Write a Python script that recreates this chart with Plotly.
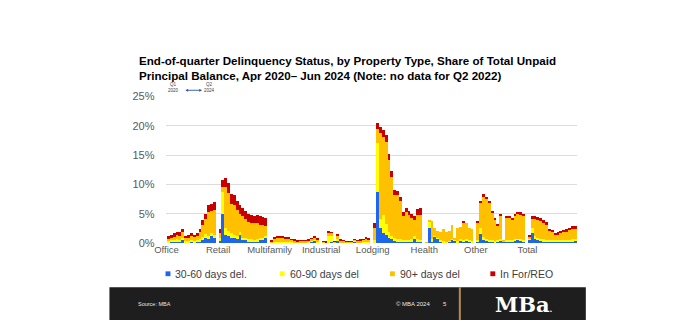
import plotly.graph_objects as go

# Property types, one group of quarterly bars each (Q1 2020 - Q2 2024, no Q2 2022)
property_types = ["Office", "Retail", "Multifamily", "Industrial",
                  "Lodging", "Health", "Other", "Total"]

# Y-axis ticks (% of total unpaid principal balance)
y_ticks = [0, 5, 10, 15, 20, 25]
y_tick_labels = ["0%", "5%", "10%", "15%", "20%", "25%"]

# Share of total unpaid principal balance (%), per delinquency status
office = dict(
    d30=[0.2, 0.3, 0.3, 0.4, 0.3, 0.6, 0.2, 0.2, 0.3, 0.2, 0.3, 0.4, 0.6, 1.0, 0.8, 1.2, 0.9],
    d60=[0.3, 0.3, 0.3, 0.3, 0.3, 0.4, 0.2, 0.2, 0.3, 0.2, 0.2, 0.3, 0.5, 0.6, 0.5, 0.6, 0.6],
    d90=[0.3, 0.4, 0.5, 0.7, 0.7, 0.9, 0.5, 0.6, 0.7, 0.7, 0.8, 1.2, 2.1, 2.5, 4.1, 3.8, 4.2],
    reo=[0.4, 0.5, 0.6, 0.6, 0.6, 0.6, 0.4, 0.4, 0.5, 0.4, 0.5, 0.6, 0.8, 0.9, 1.1, 1.2, 1.3],
)
retail = dict(
    d30=[0.4, 5.1, 1.5, 1.2, 1.0, 0.9, 0.8, 1.5, 0.6, 0.5, 0.4, 0.4, 0.3, 0.4, 0.5, 0.6, 0.9],
    d60=[0.5, 3.6, 1.2, 0.9, 0.7, 0.6, 0.5, 0.5, 0.4, 0.4, 0.3, 0.3, 0.3, 0.3, 0.4, 0.4, 0.4],
    d90=[0.9, 1.0, 6.9, 6.5, 5.1, 5.0, 4.4, 3.0, 3.6, 3.2, 3.0, 2.8, 2.8, 2.7, 2.3, 2.1, 1.7],
    reo=[0.6, 1.2, 1.6, 1.7, 1.7, 1.7, 1.6, 1.5, 1.5, 1.4, 1.4, 1.3, 1.3, 1.4, 1.5, 1.4, 1.3],
)
multifamily = dict(
    d30=[0.1, 0.2, 0.2, 0.2, 0.2, 0.1, 0.1, 0.1, 0.1, 0.1, 0.1, 0.1, 0.1, 0.2, 0.4, 0.5, 0.2],
    d60=[0.1, 0.1, 0.1, 0.1, 0.1, 0.1, 0.1, 0.1, 0.1, 0.1, 0.1, 0.1, 0.1, 0.1, 0.1, 0.1, 0.1],
    d90=[0.2, 0.6, 0.7, 0.7, 0.7, 0.7, 0.7, 0.4, 0.3, 0.2, 0.25, 0.25, 0.25, 0.25, 0.3, 0.4, 0.4],
    reo=[0.1, 0.2, 0.2, 0.2, 0.2, 0.2, 0.2, 0.1, 0.1, 0.1, 0.05, 0.05, 0.05, 0.05, 0.1, 0.1, 0.1],
)
industrial = dict(
    d30=[0.05, 0.05, 0.1, 0.2, 0.05, 0.5, 0.1, 0.1, 0.05, 0.05, 0.05, 0.4, 0.1, 0.1, 0.1, 0.2, 0.1],
    d60=[0.05, 0.05, 1.2, 1.1, 0.05, 0.2, 0.05, 0.05, 0.05, 0.05, 0.05, 0.05, 0.05, 0.05, 0.1, 0.1, 0.1],
    d90=[0.15, 0.1, 0.6, 0.5, 0.25, 0.5, 0.4, 0.3, 0.25, 0.15, 0.15, 0.2, 0.3, 0.4, 0.45, 0.6, 0.5],
    reo=[0.05, 0.2, 0.1, 0.1, 0.05, 0.4, 0.05, 0.05, 0.05, 0.05, 0.05, 0.05, 0.05, 0.05, 0.05, 0.1, 0.1],
)
lodging = dict(
    d30=[0.2, 8.7, 2.6, 1.8, 1.5, 1.0, 0.7, 0.4, 0.3, 0.3, 0.3, 0.3, 0.3, 0.4, 0.9, 0.4, 0.3],
    d60=[0.3, 8.5, 1.5, 3.0, 1.8, 1.0, 0.6, 0.5, 0.4, 0.4, 0.3, 0.3, 0.3, 0.3, 0.3, 0.3, 0.3],
    d90=[2.2, 2.4, 14.7, 13.4, 14.0, 12.3, 10.0, 7.4, 7.5, 6.5, 4.0, 4.8, 4.3, 3.6, 2.8, 4.1, 4.2],
    reo=[0.7, 0.9, 1.1, 1.2, 1.2, 1.0, 1.0, 0.9, 0.8, 0.8, 0.8, 0.7, 0.7, 0.7, 0.7, 1.1, 1.2],
)
health = dict(
    d30=[0.0, 2.6, 0.3, 1.1, 0.8, 0.3, 0.2, 0.2, 0.3, 0.6, 0.5, 0.2, 0.5, 0.3, 0.5, 0.3, 0.2],
    d60=[0.0, 1.0, 0.4, 0.2, 0.2, 0.2, 0.2, 0.1, 0.1, 0.2, 0.1, 0.2, 0.2, 0.2, 0.2, 0.2, 0.2],
    d90=[0.2, 0.4, 3.1, 1.3, 1.1, 1.5, 2.0, 1.6, 1.7, 2.4, 0.4, 2.3, 2.1, 3.1, 2.7, 2.2, 2.1],
    reo=[0.0, 0.0, 0.0, 0.0, 0.0, 0.0, 0.0, 0.0, 0.0, 0.0, 0.0, 0.0, 0.0, 0.2, 0.0, 0.0, 0.0],
)
other = dict(
    d30=[0.3, 1.6, 0.6, 0.4, 0.3, 0.3, 0.2, 0.3, 0.5, 0.3, 0.3, 0.3, 0.4, 0.5, 0.6, 0.5, 0.3],
    d60=[0.3, 1.1, 0.5, 0.4, 0.3, 0.2, 0.2, 0.2, 0.2, 0.1, 0.2, 0.2, 0.2, 0.2, 0.2, 0.3, 0.2],
    d90=[2.8, 4.3, 6.9, 6.8, 6.4, 4.8, 3.7, 2.6, 4.1, 0.2, 3.9, 4.0, 3.5, 4.1, 4.3, 4.2, 4.2],
    reo=[0.4, 0.3, 0.4, 0.3, 0.3, 0.3, 0.2, 0.2, 0.3, 0.0, 0.2, 0.2, 0.3, 0.3, 0.3, 0.3, 0.3],
)
total = dict(
    d30=[0.6, 1.7, 0.8, 0.6, 0.5, 0.4, 0.4, 0.3, 0.3, 0.3, 0.3, 0.3, 0.3, 0.4, 0.4, 0.4, 0.5],
    d60=[0.2, 1.0, 0.5, 0.4, 0.3, 0.3, 0.2, 0.2, 0.2, 0.2, 0.2, 0.2, 0.2, 0.2, 0.2, 0.3, 0.3],
    d90=[0.4, 1.5, 2.9, 3.0, 3.0, 2.8, 2.5, 1.6, 1.5, 1.0, 1.1, 1.3, 1.5, 1.5, 1.7, 1.8, 1.7],
    reo=[0.1, 0.4, 0.5, 0.5, 0.5, 0.5, 0.5, 0.4, 0.3, 0.3, 0.3, 0.3, 0.3, 0.3, 0.3, 0.4, 0.4],
)

groups = [office, retail, multifamily, industrial, lodging, health, other, total]

series = [
    ("d30", "30-60 days del.", "#1F66EE"),
    ("d60", "60-90 days del", "#FFFF00"),
    ("d90", "90+ days del", "#FFC000"),
    ("reo", "In For/REO", "#C80000"),
]

SLOTS = 18  # 17 quarters + one empty slot between property types

fig = go.Figure()
for key, name, color in series:
    xs, ys = [], []
    for g, grp in enumerate(groups):
        for k, v in enumerate(grp[key]):
            xs.append(g * SLOTS + k)
            ys.append(v)
    fig.add_trace(go.Bar(
        x=xs, y=ys, name=name, width=1.0,
        marker=dict(color=color, line=dict(width=0)),
        showlegend=False, hoverinfo="skip",
    ))

W, H = 700, 326


def px(x):
    return x / W


def py(y):
    return 1 - y / H


FONT = "Liberation Sans, Arial, sans-serif"

fig.update_layout(
    width=W, height=H,
    margin=dict(l=0, r=0, t=0, b=0),
    paper_bgcolor="white", plot_bgcolor="white",
    barmode="stack", bargap=0,
    font=dict(family=FONT, color="#595959"),
    showlegend=False,
    xaxis=dict(
        domain=[px(157), px(575)],
        range=[-0.85, 142.8],
        tickvals=[g * SLOTS - 0.5 for g in range(len(property_types))],
        ticktext=property_types,
        tickfont=dict(size=9.5, color="#595959", family=FONT),
        showgrid=False, zeroline=False, showline=False, ticks="",
        fixedrange=True,
    ),
    yaxis=dict(
        domain=[py(246), py(94)],
        range=[0, 25],
        tickvals=y_ticks,
        ticktext=y_tick_labels,
        tickfont=dict(size=11, color="#595959", family=FONT),
        gridcolor="#DCDCDC", gridwidth=1,
        zeroline=False, showline=False, ticks="",
        ticklabelstandoff=10,
        fixedrange=True,
    ),
)

annotations = []
shapes = []

# Title
annotations.append(dict(
    x=px(128), y=py(48), xref="paper", yref="paper",
    xanchor="left", yanchor="top", align="left", showarrow=False,
    text="End-of-quarter Delinquency Status, by Property Type, Share of Total Unpaid<br>"
         "Principal Balance, Apr 2020\u2013 Jun 2024 (Note: no data for Q2 2022)",
    font=dict(family=FONT, size=11.6, color="black", weight="bold"),
))

# Period key: Q1 2020 -> Q2 2024
for xc, txt in [(165, "Q1<br>2020"), (202, "Q2<br>2024")]:
    annotations.append(dict(
        x=px(xc), y=py(85), xref="paper", yref="paper",
        xanchor="center", yanchor="middle", showarrow=False,
        text=txt, font=dict(family=FONT, size=4.5, color="#404040"),
    ))
annotations.append(dict(
    x=px(194), y=py(87.5), ax=-18, ay=0,
    xref="paper", yref="paper", axref="pixel", ayref="pixel",
    text="", showarrow=True, arrowhead=2, startarrowhead=2,
    arrowside="end+start", arrowsize=0.6, arrowwidth=0.9,
    arrowcolor="#2D4FA8",
))

# Legend keys
legend_pos = [(157, 165), (273, 281), (385, 393), (487, 495)]
for (sx, tx), (_, name, color) in zip(legend_pos, series):
    shapes.append(dict(
        type="rect", xref="paper", yref="paper",
        x0=px(sx), x1=px(sx + 5), y0=py(280.5), y1=py(275.5),
        fillcolor=color, line=dict(width=0),
    ))
    annotations.append(dict(
        x=px(tx), y=py(278), xref="paper", yref="paper",
        xanchor="left", yanchor="middle", showarrow=False,
        text=name, font=dict(family=FONT, size=10.5, color="#404040"),
    ))

# Footer band
shapes.append(dict(
    type="rect", xref="paper", yref="paper",
    x0=px(100), x1=px(584), y0=py(326), y1=py(292),
    fillcolor="#1E1E1E", line=dict(width=0), layer="above",
))
shapes.append(dict(
    type="line", xref="paper", yref="paper",
    x0=px(456), x1=px(456), y0=py(326), y1=py(292),
    line=dict(color="#B08D57", width=2), layer="above",
))
annotations.append(dict(
    x=px(127), y=py(309), xref="paper", yref="paper",
    xanchor="left", yanchor="middle", showarrow=False,
    text="Source: MBA", font=dict(family=FONT, size=5.5, color="#E6E6E6"),
))
annotations.append(dict(
    x=px(389), y=py(309), xref="paper", yref="paper",
    xanchor="left", yanchor="middle", showarrow=False,
    text="\u00a9 MBA 2024", font=dict(family=FONT, size=6, color="#E6E6E6"),
))
annotations.append(dict(
    x=px(441), y=py(309), xref="paper", yref="paper",
    xanchor="center", yanchor="middle", showarrow=False,
    text="5", font=dict(family=FONT, size=6, color="#E6E6E6"),
))
annotations.append(dict(
    x=px(521), y=py(310), xref="paper", yref="paper",
    xanchor="center", yanchor="middle", showarrow=False,
    text="MBa<span style='font-size:8px'>.</span>",
    font=dict(family="DejaVu Serif, serif", size=21, color="white", weight="bold"),
))

fig.update_layout(annotations=annotations, shapes=shapes)

fig.write_html("out.html")
